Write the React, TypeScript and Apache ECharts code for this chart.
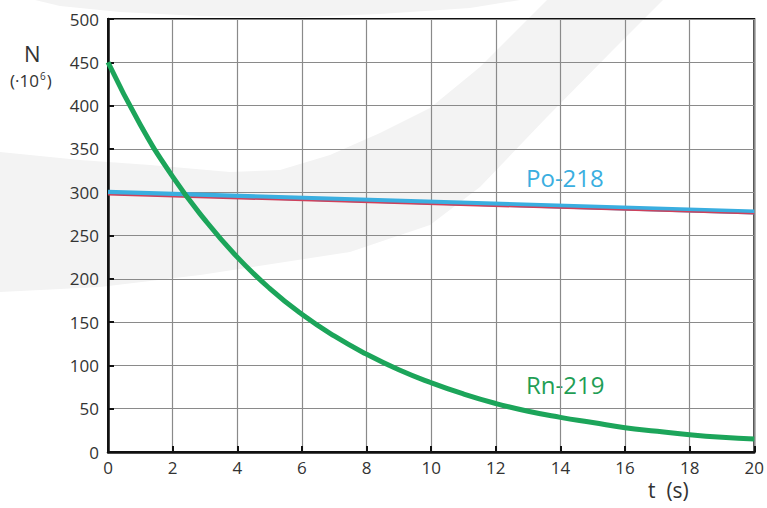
import React, { useEffect, useRef } from "react";
import * as echarts from "echarts";

const times = [0, 1, 2, 3, 4, 5, 6, 7, 8, 9, 10, 11, 12, 13, 14, 15, 16, 17, 18, 19, 20];
const rn219 = [450, 378, 318, 268, 225, 189, 159, 134, 113, 95, 80, 67, 56, 47, 40, 34, 28, 24, 20, 17, 15];
const po218Times = [0, 20];
const po218 = [300, 277];
const redTimes = [0, 20];
const redLine = [297, 275];

export default function App() {
  const ref = useRef<HTMLDivElement>(null);
  useEffect(() => {
    if (!ref.current) return;
    const chart = echarts.init(ref.current, null, { renderer: "svg" });
    const font = "'Open Sans', 'Noto Sans', sans-serif";
    chart.setOption({
      animation: false,
      backgroundColor: "#ffffff",
      grid: {
        left: 108,
        right: 10,
        top: 19,
        bottom: 56,
        show: true,
        borderColor: "#111",
        borderWidth: 2,
        backgroundColor: "transparent",
      },
      xAxis: {
        type: "value",
        min: 0,
        max: 20,
        interval: 2,
        axisLine: { show: true, lineStyle: { color: "#111", width: 2.5 } },
        axisTick: { show: true, inside: true, length: 6, lineStyle: { color: "#111", width: 2 } },
        axisLabel: { color: "#333", fontSize: 17, fontFamily: font, margin: 7 },
        splitLine: { show: true, lineStyle: { color: "#8a8a8a", width: 1.2 } },
      },
      yAxis: {
        type: "value",
        min: 0,
        max: 500,
        interval: 50,
        axisLine: { show: true, lineStyle: { color: "#111", width: 2.5 } },
        axisTick: { show: true, inside: true, length: 6, lineStyle: { color: "#111", width: 2 } },
        axisLabel: { color: "#333", fontSize: 17, fontFamily: font, margin: 9 },
        splitLine: { show: true, lineStyle: { color: "#8a8a8a", width: 1.2 } },
      },
      graphic: [
        {
          type: "polygon",
          z: -10,
          silent: true,
          shape: {
            points: [
              [0, 152], [80, 160], [150, 165], [230, 172], [280, 170], [330, 155], [380, 133],
              [430, 108], [480, 67], [547, 0], [663, 0], [613, 50], [547, 117], [480, 187],
              [430, 225], [350, 252], [200, 275], [100, 287], [0, 292],
            ],
          },
          style: { fill: "#f3f3f3" },
        },
        {
          type: "polygon",
          z: -10,
          silent: true,
          shape: {
            points: [[35, 0], [520, 0], [470, 8], [380, 14], [300, 17], [200, 16], [120, 12], [60, 6]],
          },
          style: { fill: "#f3f3f3" },
        },
        {
          type: "text",
          left: 24,
          top: 42,
          style: { text: "N", fontSize: 22, fill: "#333", fontFamily: font },
        },
        {
          type: "text",
          left: 10,
          top: 71,
          style: {
            text: "(·10{sup|6})",
            fontSize: 17,
            fill: "#333",
            fontFamily: font,
            rich: {
              sup: { fontSize: 10, fill: "#333", fontFamily: font, verticalAlign: "top", padding: [0, 1, 8, 1] },
            },
          },
        },
        {
          type: "text",
          left: 648,
          top: 479,
          style: { text: "t  (s)", fontSize: 21, fill: "#333", fontFamily: font },
        },
        {
          type: "text",
          left: 526,
          top: 165,
          style: { text: "Po-218", fontSize: 24, fill: "#3aaee0", fontFamily: font },
        },
        {
          type: "text",
          left: 526,
          top: 372,
          style: { text: "Rn-219", fontSize: 24, fill: "#1f9e55", fontFamily: font },
        },
      ],
      series: [
        {
          type: "line",
          name: "Po-218",
          data: po218Times.map((t, i) => [t, po218[i]]),
          showSymbol: false,
          lineStyle: { color: "#3aaee0", width: 5 },
          z: 3,
        },
        {
          type: "line",
          name: "red",
          data: redTimes.map((t, i) => [t, redLine[i]]),
          showSymbol: false,
          lineStyle: { color: "#d0405a", width: 1.5 },
          z: 4,
        },
        {
          type: "line",
          name: "Rn-219",
          data: times.map((t, i) => [t, rn219[i]]),
          smooth: true,
          showSymbol: false,
          lineStyle: { color: "#1ca55a", width: 5 },
          z: 5,
        },
      ],
    });
    return () => chart.dispose();
  }, []);
  return (
    <div
      ref={ref}
      style={{ position: "fixed", left: 0, top: 0, width: 767, height: 508 }}
    />
  );
}
